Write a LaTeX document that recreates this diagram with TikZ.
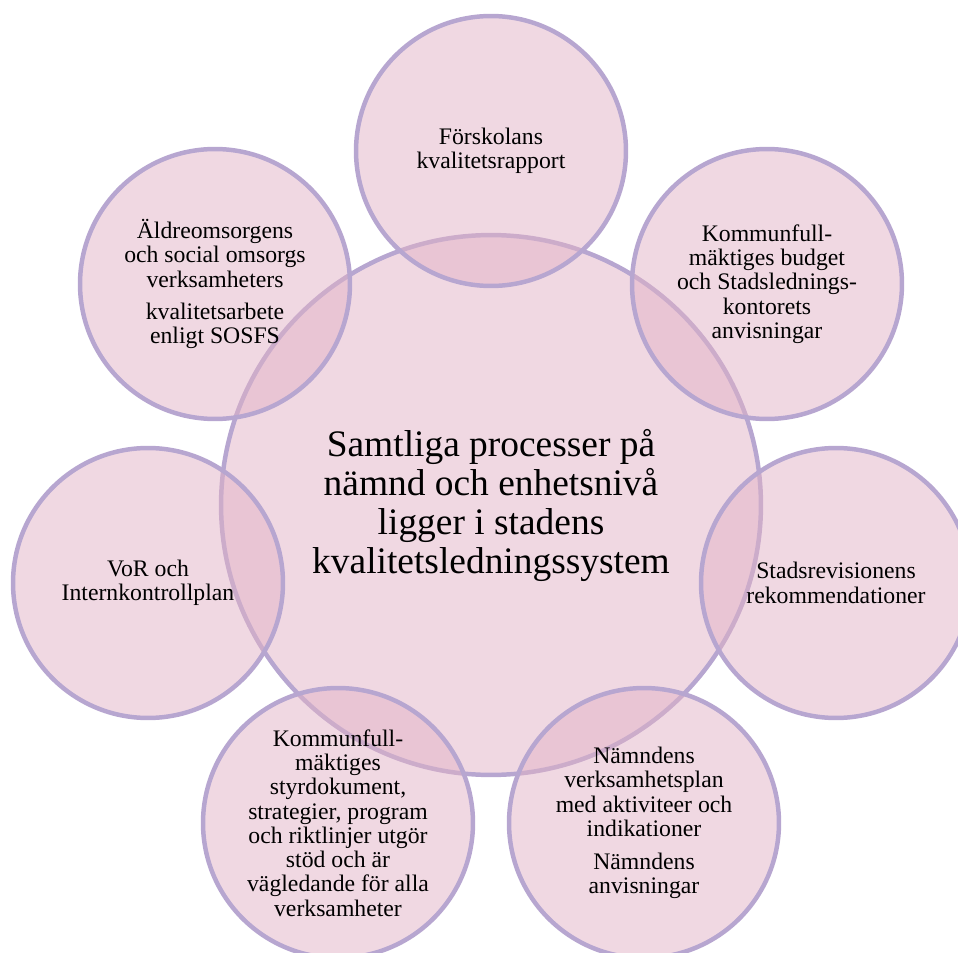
\documentclass[tikz,border=0pt]{standalone}
\usepackage{fontspec}
\setmainfont{Liberation Serif}
\definecolor{ringline}{RGB}{183,166,208}
\definecolor{ringfill}{RGB}{226,178,198}
\tikzset{
  x=0.02cm, y=-0.02cm,
  ring/.style={circle, draw=ringline, line width=2.55pt, fill=ringfill,
    fill opacity=0.5, draw opacity=1, text opacity=1, align=center,
    inner sep=0pt, text=black},
  satellite/.style={ring, minimum size=5.4cm,
    font=\fontsize{13.5}{13.8}\selectfont},
  hub/.style={ring, minimum size=10.8cm,
    font=\fontsize{21.3}{22.2}\selectfont}
}
\begin{document}
\begin{tikzpicture}
\useasboundingbox (0,0) rectangle (958,953);
% central circle
\node[hub] (hub) at (491,505) {Samtliga processer på\\nämnd och enhetsnivå\\ligger i stadens\\kvalitetsledningssystem};
% seven satellites, evenly spaced around the hub
\node[satellite] (s1) at (491,151) {Förskolans\\kvalitetsrapport};
\node[satellite] (s2) at (767,284) {Kommunfull-\\mäktiges budget\\och Stadslednings-\\kontorets\\anvisningar};
\node[satellite] (s3) at (836,583) {Stadsrevisionens\\rekommendationer};
\node[satellite] (s4) at (644,823) {Nämndens\\verksamhetsplan\\med aktiviteer och\\indikationer\\[5pt]Nämndens\\anvisningar};
\node[satellite] (s5) at (338,823) {Kommunfull-\\mäktiges\\styrdokument,\\strategier, program\\och riktlinjer utgör\\stöd och är\\vägledande för alla\\verksamheter};
\node[satellite] (s6) at (148,583) {VoR och\\Internkontrollplan};
\node[satellite] (s7) at (215,284) {Äldreomsorgens\\och social omsorgs\\verksamheters\\[4.5pt]kvalitetsarbete\\enligt SOSFS};
\end{tikzpicture}
\end{document}
